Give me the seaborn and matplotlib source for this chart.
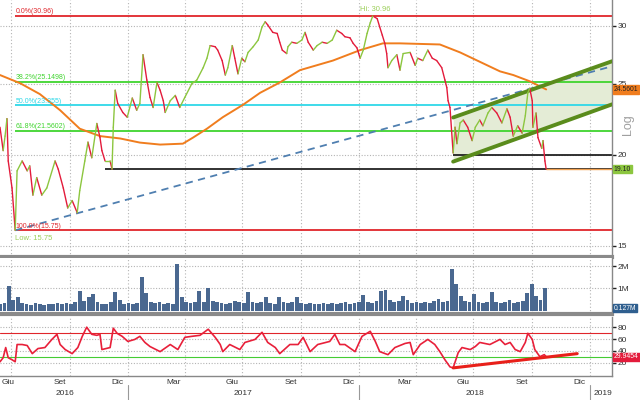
import numpy as np
import pandas as pd
import matplotlib
matplotlib.use('Agg')
import matplotlib.pyplot as plt
import matplotlib.transforms as mtrans
from matplotlib.ticker import FixedLocator, NullLocator
import seaborn as sns

sns.set_style('white')
plt.rcParams['font.family'] = ['Liberation Sans', 'DejaVu Sans']

START = pd.Timestamp('2016-06-13')
END = pd.Timestamp('2019-02-05')

# ---------------- data ----------------
price_days = [0, 5, 8, 11, 13, 19, 24, 27, 35, 43,
              47, 52, 58, 66, 74, 87, 92, 100, 107, 114,
              122, 126, 134, 139, 145, 153, 158, 161, 166, 174,
              177, 179, 182, 186, 194, 201, 209, 216, 221, 226,
              232, 237, 242, 248, 253, 258, 261, 269, 277, 284,
              292, 303, 311, 321, 327, 332, 340, 344, 351, 356,
              360, 367, 371, 376, 382, 387, 392, 400, 408, 414,
              419, 423, 431, 438, 442, 446, 453, 455, 461, 469,
              477, 482, 487, 495, 501, 509, 517, 525, 532, 540,
              545, 553, 558, 564, 569, 574, 580, 585, 589, 596,
              600, 604, 608, 611, 613, 619, 627, 632, 637, 648,
              656, 660, 668, 676, 683, 690, 698, 703, 706, 708,
              711, 716, 719, 722, 727, 732, 739, 746, 751, 758,
              763, 771, 777, 785, 793, 801, 806, 811, 818, 825,
              830, 834, 837, 841, 842, 847, 850, 856, 858, 861, 863]
price_vals = [21.8, 20.25, 21.2, 22.4, 19.6, 18.0, 15.75, 19.0, 19.6, 19.0,
              19.3, 17.6, 18.6, 17.6, 18.0, 19.6, 19.1, 18.0, 16.9, 17.3,
              16.65, 17.85, 19.6, 20.8, 19.8, 22.06, 21.1, 20.25, 19.6, 19.6,
              19.1, 21.8, 24.5, 23.5, 22.84, 22.5, 23.9, 23.0, 23.5, 27.4,
              25.3, 23.95, 23.2, 25.1, 24.5, 23.7, 22.84, 23.7, 24.1, 23.2,
              23.95, 25.0, 25.3, 26.3, 27.1, 28.2, 28.1, 27.8, 26.9, 25.7,
              26.3, 28.2, 27.1, 25.8, 27.1, 26.8, 27.6, 28.1, 28.7, 29.9,
              30.4, 30.1, 29.4, 29.3, 28.5, 27.8, 27.5, 28.1, 28.5, 28.4,
              28.7, 29.4, 28.5, 27.8, 28.2, 28.5, 28.4, 28.7, 29.6, 29.3,
              29.0, 28.9, 28.4, 28.0, 27.1, 27.8, 29.3, 30.3, 30.96, 30.7,
              29.9, 29.15, 28.4, 27.5, 26.3, 26.9, 27.4, 26.1, 27.5, 27.6,
              26.5, 27.1, 26.9, 27.8, 27.1, 26.9, 26.3, 25.3, 24.7, 23.7,
              23.2, 20.1, 21.8, 20.7, 22.1, 22.3, 21.8, 20.9, 21.8, 22.3,
              21.9, 22.8, 23.2, 22.8, 22.1, 23.1, 22.5, 21.2, 21.9, 21.4,
              22.6, 24.3, 24.65, 23.7, 21.8, 22.8, 21.1, 20.4, 20.9, 19.6, 19.10]

ma_days = [0, 32, 63, 95, 126, 158, 190, 221, 253, 289, 305, 327, 352, 384,
           411, 442, 474, 526, 569, 605, 632, 695, 727, 758, 790, 811, 837, 863]
ma_vals = [25.7, 25.04, 24.2, 23.0, 21.7, 21.2, 21.04, 20.77, 20.64, 20.7, 21.1, 21.7, 22.5, 23.4,
           24.3, 25.1, 26.1, 26.9, 27.8, 28.4, 28.4, 28.3, 27.6, 26.8, 26.0, 25.7, 25.2, 24.56]

# weekly volume (millions), first week starting 2016-06-13
vol_vals = [0.30, 0.35, 1.10, 0.50, 0.63, 0.35, 0.30, 0.28, 0.36, 0.30,
            0.28, 0.32, 0.30, 0.35, 0.30, 0.33, 0.30, 0.40, 0.90, 0.45,
            0.60, 0.77, 0.40, 0.30, 0.32, 0.40, 0.85, 0.50, 0.30, 0.35,
            0.30, 0.35, 1.50, 0.80, 0.40, 0.35, 0.40, 0.30, 0.35, 0.30,
            2.10, 0.60, 0.40, 0.35, 0.40, 0.90, 0.40, 1.00, 0.45, 0.40,
            0.35, 0.30, 0.35, 0.45, 0.40, 0.35, 0.85, 0.40, 0.35, 0.40,
            0.60, 0.35, 0.30, 0.63, 0.40, 0.35, 0.40, 0.60, 0.35, 0.30,
            0.35, 0.30, 0.30, 0.35, 0.30, 0.35, 0.30, 0.35, 0.40, 0.30,
            0.35, 0.40, 0.70, 0.40, 0.35, 0.45, 0.90, 0.95, 0.50, 0.40,
            0.45, 0.65, 0.50, 0.35, 0.40, 0.35, 0.40, 0.35, 0.45, 0.55,
            0.40, 0.45, 1.85, 1.20, 0.65, 0.45, 0.40, 0.75, 0.40, 0.35,
            0.40, 0.85, 0.40, 0.35, 0.40, 0.50, 0.35, 0.40, 0.45, 0.80,
            1.20, 0.65, 0.50, 1.00]

rsi_days = [0, 5, 9, 13, 19, 24, 27, 35, 43, 51,
            60, 71, 82, 90, 95, 103, 114, 123, 130, 137,
            145, 153, 158, 161, 174, 179, 185, 193, 202, 213,
            221, 229, 237, 253, 269, 281, 292, 303, 316, 329,
            340, 348, 352, 363, 379, 387, 403, 414, 423, 435,
            442, 458, 471, 479, 490, 502, 521, 529, 537, 545,
            561, 572, 585, 593, 600, 613, 624, 640, 648, 653,
            664, 676, 687, 695, 703, 711, 716, 724, 730, 743,
            751, 758, 774, 790, 798, 806, 814, 822, 830, 834,
            841, 845, 853, 860, 863]
rsi_vals = [21.7, 28.5, 45.7, 28.5, 25.1, 21.7, 50.8, 50.8, 49.1, 35.4,
            44.0, 45.7, 59.4, 68.0, 50.8, 42.3, 35.4, 45.7, 64.6, 80.0,
            68.0, 66.3, 68.0, 42.3, 45.7, 78.3, 69.7, 64.6, 56.0, 59.4,
            64.6, 54.3, 47.4, 38.8, 50.8, 42.3, 62.9, 64.6, 66.3, 76.6,
            62.9, 50.8, 38.8, 50.8, 42.3, 54.3, 59.4, 71.4, 54.3, 45.7,
            35.4, 50.8, 50.8, 62.9, 38.8, 50.8, 56.0, 68.0, 50.8, 50.8,
            38.8, 64.6, 73.1, 56.0, 38.8, 33.7, 45.7, 52.6, 54.3, 33.7,
            50.8, 59.4, 50.8, 38.8, 25.1, 13.1, 11.4, 37.1, 45.7, 42.3,
            47.4, 54.3, 50.8, 59.4, 50.8, 54.3, 42.3, 38.8, 54.3, 69.7,
            59.4, 42.3, 30.3, 33.7, 30.3]

fib_levels = [30.96, 25.1498, 23.355, 21.5602, 15.75]
fib_labels = ['0.0%(30.96)', '38.2%(25.1498)', '50.0%(23.355)', '61.8%(21.5602)', '100.0%(15.75)']
fib_colors = ['#e0252b', '#3fd42e', '#2fd8e8', '#3fd42e', '#e0252b']

trend_days = [24, 967]
trend_vals = [15.75, 26.42]
chan_days = [716, 967]
chan_upper = [22.48, 26.84]
chan_lower = [19.56, 23.43]
support_levels = [19.10, 20.0]
support_start = [166, 716]
rsi_trend_days = [716, 912]
rsi_trend_vals = [11.4, 35.4]

last_price = 19.10
last_ma = 24.5601
last_vol = 0.127
last_rsi = 29.9454

month_label_dates = ['2016-06-15', '2016-09-15', '2016-12-15', '2017-03-15', '2017-06-15',
                     '2017-09-15', '2017-12-15', '2018-03-15', '2018-06-15', '2018-09-15',
                     '2018-12-15']
month_labels = ['Giu', 'Set', 'Dic', 'Mar', 'Giu', 'Set', 'Dic', 'Mar', 'Giu', 'Set', 'Dic']
year_label_dates = ['2016-09-24', '2017-07-02', '2018-07-03', '2019-01-21']
year_labels = ['2016', '2017', '2018', '2019']

# ---------------- colours ----------------
UP = '#8cc63f'
DOWN = '#e31b3b'
MA_C = '#f07d1e'
GRID = '#b4b4b4'
SEP = '#8a8a8a'


def to_dates(days):
    return START + pd.to_timedelta(np.asarray(days), unit='D')


fig = plt.figure(figsize=(6.4, 4.0), dpi=100)
H = 400.0


def rect(top, bottom, right=612):
    return [0.0, 1 - bottom / H, right / 640.0, (bottom - top) / H]


ax1 = fig.add_axes(rect(0, 257))
ax2 = fig.add_axes(rect(258, 314), sharex=ax1)
ax3 = fig.add_axes(rect(317, 376), sharex=ax1)

# ---------------- main price panel ----------------
ax1.set_yscale('log')
pdates = to_dates(price_days)
rows = []
for i in range(len(pdates) - 1):
    d = 'up' if price_vals[i + 1] >= price_vals[i] else 'down'
    rows.append((i, d, pdates[i], price_vals[i]))
    rows.append((i, d, pdates[i + 1], price_vals[i + 1]))
seg = pd.DataFrame(rows, columns=['seg', 'dir', 'date', 'price'])

# channel fill
cd = to_dates(chan_days)
ax1.fill_between(cd, chan_lower, chan_upper, color='#e4ecd6', zorder=1, lw=0)

# horizontal grid
for v in [15, 20, 25, 30]:
    ax1.axhline(v, color=GRID, lw=0.8, ls=(0, (1, 1.5)), zorder=0.5)

# fib lines
lowd = to_dates([24])[0]
for lvl, lab, col in zip(fib_levels, fib_labels, fib_colors):
    ax1.hlines(lvl, lowd, END, color=col, lw=1.3, zorder=2)
    ax1.annotate(lab, xy=(lowd, lvl), xytext=(0.5, 0.6), textcoords='offset points',
                 ha='left', va='bottom', fontsize=5, color=col, zorder=6)

# support lines
for lvl, sd in zip(support_levels, support_start):
    ax1.hlines(lvl, to_dates([sd])[0], END, color='#222222', lw=1.3, zorder=2)

# trend dashed
ax1.plot(to_dates(trend_days), trend_vals, color='#4f7fb0', lw=1.3, ls=(0, (4, 3)), zorder=3)

# channel lines
ax1.plot(cd, chan_upper, color='#5a8c1c', lw=2.8, zorder=4)
ax1.plot(cd, chan_lower, color='#5a8c1c', lw=2.8, zorder=4)

# moving average
ma_df = pd.DataFrame({'date': to_dates(ma_days), 'ma': ma_vals})
sns.lineplot(data=ma_df, x='date', y='ma', color=MA_C, lw=1.4, ax=ax1, zorder=3)

# price
sns.lineplot(data=seg, x='date', y='price', hue='dir', units='seg', estimator=None,
             palette={'up': UP, 'down': DOWN}, legend=False, lw=1.0, sort=False,
             ax=ax1, zorder=5)
ax1.hlines(last_price, pdates[-1], END, color='#f0a050', lw=1.0, zorder=5)

# hi / low labels
hi_i = int(np.argmax(price_vals))
lo_i = int(np.argmin(price_vals))
ax1.annotate('Hi: %.2f' % price_vals[hi_i], xy=(pdates[hi_i], price_vals[hi_i]),
             xytext=(2, 2.5), textcoords='offset points', ha='center', va='bottom',
             fontsize=5.5, color='#9ccf5a', zorder=6)
ax1.annotate('Low: %.2f' % price_vals[lo_i], xy=(pdates[lo_i], price_vals[lo_i]),
             xytext=(0, -3.5), textcoords='offset points', ha='left', va='top',
             fontsize=5.5, color='#9ccf5a', zorder=6)

ax1.set_ylim(14.48, 32.56)
ax1.set_xlim(START, END)

# ---------------- volume panel ----------------
vdates = pd.date_range(START, periods=len(vol_vals), freq='7D')
ax2.bar(vdates, vol_vals, width=6.0, color='#4a6890', lw=0, zorder=2)
for v in [1, 2]:
    ax2.axhline(v, color=GRID, lw=0.8, ls=(0, (1, 1.5)), zorder=0.5)
ax2.set_ylim(-0.14, 2.36)

# ---------------- RSI panel ----------------
rsi_df = pd.DataFrame({'date': to_dates(rsi_days), 'rsi': rsi_vals})
for v in [20, 40, 60, 80]:
    ax3.axhline(v, color=GRID, lw=0.8, ls=(0, (1, 1.5)), zorder=0.5)
ax3.axhline(70, color='#e0252b', lw=0.8, zorder=1)
ax3.axhline(30, color='#44cc33', lw=0.8, zorder=1)
sns.lineplot(data=rsi_df, x='date', y='rsi', color='#e8203a', lw=1.2, ax=ax3, zorder=3)
ax3.plot(to_dates(rsi_trend_days), rsi_trend_vals, color='#e8201a', lw=2.2, zorder=4)
ax3.set_ylim(-2.3, 97.2)

# ---------------- common styling ----------------
qdates = pd.date_range('2016-07-01', '2019-01-01', freq='QS')
for ax in (ax1, ax2, ax3):
    for q in qdates:
        ax.axvline(q, color=GRID, lw=0.8, ls=(0, (1, 2)), zorder=0.5)
    ax.set_xlabel('')
    ax.set_ylabel('')
    ax.spines['left'].set_visible(False)
    ax.spines['top'].set_visible(False)
    ax.spines['right'].set_color('#888888')
    ax.spines['right'].set_linewidth(1)
    ax.yaxis.tick_right()
    ax.yaxis.set_minor_locator(NullLocator())
    ax.tick_params(axis='y', which='major', direction='out', length=3, width=1,
                   color='#222222', labelsize=6, pad=1, labelcolor='#333333')
    ax.set_facecolor('white')

ax1.spines['bottom'].set_color(SEP)
ax1.spines['bottom'].set_linewidth(3)
ax2.spines['bottom'].set_color(SEP)
ax2.spines['bottom'].set_linewidth(3)
ax3.spines['bottom'].set_color('#888888')
ax3.spines['bottom'].set_linewidth(1)

ax1.yaxis.set_major_locator(FixedLocator([15, 20, 25, 30]))
ax1.set_yticklabels(['15', '20', '25', '30'])
ax2.yaxis.set_major_locator(FixedLocator([1, 2]))
ax2.set_yticklabels(['1M', '2M'])
ax3.yaxis.set_major_locator(FixedLocator([20, 40, 60, 80]))
ax3.set_yticklabels(['20', '40', '60', '80'])

for ax in (ax1, ax2):
    ax.tick_params(axis='x', which='both', length=0, labelbottom=False)

ax3.set_xticks(pd.to_datetime(month_label_dates))
ax3.set_xticklabels(month_labels)
ax3.set_xticks(pd.date_range('2016-07-01', '2019-02-01', freq='MS'), minor=True)
ax3.tick_params(axis='x', which='major', length=0, labelsize=6, pad=2, labelcolor='#333333')
ax3.tick_params(axis='x', which='minor', length=3, direction='in', width=0.8, color='#666666')
ax3.set_xlim(START, END)
ax3.get_xticklabels()[0].set_horizontalalignment('left')

btr = mtrans.blended_transform_factory(ax3.transData, ax3.transAxes)
for d, lab in zip(pd.to_datetime(year_label_dates), year_labels):
    ax3.text(d, -0.30, lab, transform=btr, ha='center', va='center', fontsize=6, color='#333333')
for yd in pd.to_datetime(['2017-01-01', '2018-01-01', '2019-01-01']):
    ax3.plot([yd, yd], [-0.16, -0.42], transform=btr, clip_on=False, color='#999999', lw=0.8)


def value_box(ax, y, text, fc, tc):
    ax.text(1.003, y, text, transform=ax.get_yaxis_transform(), ha='left', va='center',
            fontsize=4.9, color=tc, clip_on=False, zorder=10,
            bbox=dict(boxstyle='square,pad=0.12', fc=fc, ec=fc))


value_box(ax1, last_ma, '%.4f' % last_ma, MA_C, '#222222')
value_box(ax1, last_price, '%.2f' % last_price, UP, '#222222')
value_box(ax2, last_vol, '%.3fM' % last_vol, '#2f5f8f', 'white')
value_box(ax3, last_rsi, '%.4f' % last_rsi, '#e31b3b', 'white')

fig.text(628 / 640, 1 - 125 / H, 'Log', rotation=90, ha='center', va='center',
         fontsize=9, color='#a0a0a0')

fig.savefig('out.png', dpi=100)
